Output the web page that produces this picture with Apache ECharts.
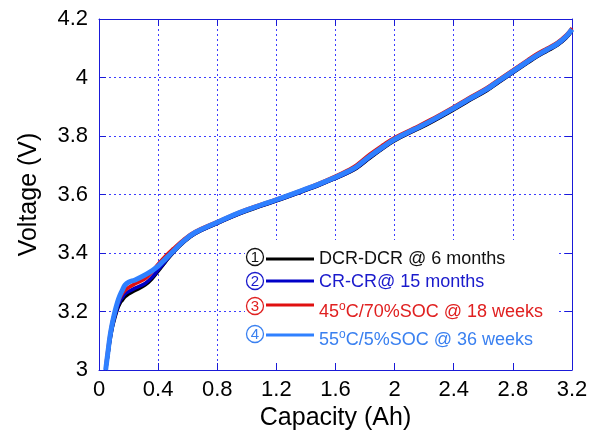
<!DOCTYPE html>
<html>
<head>
<meta charset="utf-8">
<script src="https://cdn.jsdelivr.net/npm/echarts@6/dist/echarts.min.js"></script>
<style>
  html, body { margin: 0; padding: 0; background: #fff; }
  #chart { width: 596px; height: 432px; }
</style>
</head>
<body>
<div id="chart"></div>
<script>
// Discharge capacity (Ah) shared by all four cells
const capacity = [0.045, 0.06, 0.074, 0.09, 0.108, 0.125, 0.142, 0.16, 0.176, 0.2, 0.244, 0.311, 0.36, 0.4, 0.45, 0.5, 0.57, 0.65, 0.8, 0.95, 1.1, 1.2, 1.38, 1.5, 1.6, 1.68, 1.74, 1.83, 1.92, 2.0, 2.13, 2.24, 2.4, 2.5, 2.62, 2.7, 2.8, 2.9, 2.96, 3.03, 3.1, 3.16, 3.2];

// Voltage (V) of each aged cell along the capacity axis
const voltDCR = [3.0, 3.05, 3.1, 3.145, 3.18, 3.208, 3.228, 3.24, 3.25, 3.26, 3.272, 3.29, 3.313, 3.338, 3.37, 3.4, 3.435, 3.466, 3.501, 3.534, 3.561, 3.578, 3.611, 3.634, 3.655, 3.673, 3.689, 3.724, 3.757, 3.784, 3.817, 3.845, 3.89, 3.92, 3.954, 3.982, 4.016, 4.05, 4.07, 4.09, 4.11, 4.135, 4.16];
const voltCR = [3.0, 3.052, 3.104, 3.148, 3.185, 3.214, 3.236, 3.25, 3.26, 3.268, 3.28, 3.296, 3.318, 3.342, 3.372, 3.402, 3.437, 3.467, 3.502, 3.535, 3.562, 3.579, 3.612, 3.635, 3.656, 3.674, 3.69, 3.726, 3.759, 3.786, 3.819, 3.847, 3.892, 3.922, 3.956, 3.984, 4.018, 4.052, 4.072, 4.092, 4.112, 4.137, 4.162];
const volt45C = [3.01, 3.07, 3.12, 3.165, 3.2, 3.226, 3.246, 3.262, 3.272, 3.282, 3.295, 3.312, 3.336, 3.362, 3.39, 3.414, 3.445, 3.473, 3.507, 3.54, 3.567, 3.584, 3.617, 3.641, 3.663, 3.683, 3.7, 3.737, 3.769, 3.795, 3.827, 3.855, 3.9, 3.93, 3.964, 3.992, 4.026, 4.06, 4.08, 4.1, 4.12, 4.145, 4.169];
const volt55C = [3.0, 3.06, 3.114, 3.16, 3.2, 3.232, 3.256, 3.275, 3.29, 3.3, 3.308, 3.325, 3.34, 3.355, 3.38, 3.405, 3.44, 3.47, 3.505, 3.538, 3.565, 3.582, 3.615, 3.638, 3.659, 3.678, 3.694, 3.73, 3.762, 3.789, 3.822, 3.85, 3.895, 3.925, 3.959, 3.987, 4.021, 4.055, 4.075, 4.095, 4.115, 4.14, 4.165];

// Tick labels
const xTickLabels = ['0', '0.4', '0.8', '1.2', '1.6', '2', '2.4', '2.8', '3.2'];
const yTickLabels = ['3', '3.2', '3.4', '3.6', '3.8', '4', '4.2'];

// Legend entries
const legendMarks = ['1', '2', '3', '4'];
const legendColors = ['#000000', '#0000c8', '#e01010', '#2f80ff'];
const legendTextColors = ['#111111', '#1a1acc', '#e02020', '#3a80f0'];

const FONT = '"Liberation Sans", Arial, Helvetica, sans-serif';
const AXIS_BLUE = '#1a1ad8';
const GRID_BLUE = '#3c3cff';

function pairs(ys) { return capacity.map((c, i) => [c, ys[i]]); }

const chart = echarts.init(document.getElementById('chart'), null, { renderer: 'canvas' });

const axisCommon = {
  axisLine: { show: true, onZero: false, lineStyle: { color: AXIS_BLUE, width: 1 } },
  axisTick: { show: true, inside: true, length: 7, lineStyle: { color: AXIS_BLUE, width: 1 } }
};

function lineSeries(name, ys, color, width, z) {
  return {
    name, type: 'line', data: pairs(ys), showSymbol: false, smooth: 0.4,
    lineStyle: { color, width }, z, animation: false
  };
}

// Legend: white panel, then circled number, line sample and label for each series
const graphics = [{
  type: 'rect', shape: { x: 245, y: 240, width: 312, height: 122 },
  style: { fill: '#ffffff' }, z: 1, silent: true
}];
const legendRows = [
  { cy: 257, ly: 259, ty: 259, label: 'DCR-DCR @ 6 months' },
  { cy: 281, ly: 281, ty: 282, label: 'CR-CR@ 15 months' },
  { cy: 306, ly: 305, ty: 312, label: '45{sup|o}C/70%SOC @ 18 weeks' },
  { cy: 334, ly: 335, ty: 340, label: '55{sup|o}C/5%SOC @ 36 weeks' }
];
legendRows.forEach((r, i) => {
  graphics.push({
    type: 'circle', shape: { cx: 255, cy: r.cy, r: 8.5 },
    style: { fill: 'none', stroke: legendTextColors[i], lineWidth: 1.3 }, z: 100
  });
  graphics.push({
    type: 'text', x: 255, y: r.cy + 0.5,
    style: { text: legendMarks[i], fill: legendTextColors[i], font: '15px ' + FONT, align: 'center', verticalAlign: 'middle' }, z: 100
  });
  graphics.push({
    type: 'line', shape: { x1: 266, y1: r.ly, x2: 314, y2: r.ly },
    style: { stroke: legendColors[i], lineWidth: 3 }, z: 100
  });
  graphics.push({
    type: 'text', x: 319, y: r.ty,
    style: {
      text: r.label, fill: legendTextColors[i], font: '18px ' + FONT,
      align: 'left', verticalAlign: 'middle',
      rich: { sup: { fontSize: 12, fontFamily: FONT, fill: legendTextColors[i], verticalAlign: 'top', padding: [0, 0, 10, 0] } }
    }, z: 100
  });
});

chart.setOption({
  animation: false,
  backgroundColor: '#ffffff',
  grid: { left: 99, right: 24, top: 19, bottom: 62, containLabel: false, outerBoundsMode: 'none' },
  xAxis: [
    Object.assign({
      type: 'value', min: 0, max: 3.2, interval: 0.4,
      name: 'Capacity (Ah)', nameLocation: 'middle', nameGap: 32,
      nameTextStyle: { fontFamily: FONT, fontSize: 25, color: '#000' },
      axisLabel: {
        margin: 9, fontFamily: FONT, fontSize: 22, color: '#000',
        formatter: v => xTickLabels[Math.round(v / 0.4)]
      },
      splitLine: { show: true, lineStyle: { color: GRID_BLUE, width: 1, type: [2, 3] } }
    }, axisCommon),
    Object.assign({
      type: 'value', position: 'top', min: 0, max: 3.2, interval: 0.4,
      axisLabel: { show: false }, splitLine: { show: false }
    }, axisCommon)
  ],
  yAxis: [
    Object.assign({
      type: 'value', min: 3, max: 4.2, interval: 0.2,
      name: 'Voltage (V)', nameLocation: 'middle', nameGap: 57, nameRotate: 90,
      nameTextStyle: { fontFamily: FONT, fontSize: 25, color: '#000' },
      axisLabel: {
        margin: 11, fontFamily: FONT, fontSize: 22, color: '#000',
        formatter: v => yTickLabels[Math.round((v - 3) / 0.2)]
      },
      splitLine: { show: true, lineStyle: { color: GRID_BLUE, width: 1, type: [2, 3] } }
    }, axisCommon),
    Object.assign({
      type: 'value', position: 'right', min: 3, max: 4.2, interval: 0.2,
      axisLabel: { show: false }, splitLine: { show: false }
    }, axisCommon)
  ],
  series: [
    lineSeries('DCR-DCR @ 6 months', voltDCR, legendColors[0], 3.5, 2),
    lineSeries('CR-CR @ 15 months', voltCR, legendColors[1], 3.5, 3),
    lineSeries('45°C/70%SOC @ 18 weeks', volt45C, legendColors[2], 3.5, 4),
    lineSeries('55°C/5%SOC @ 36 weeks', volt55C, legendColors[3], 5, 5)
  ],
  graphic: graphics
});
</script>
</body>
</html>
